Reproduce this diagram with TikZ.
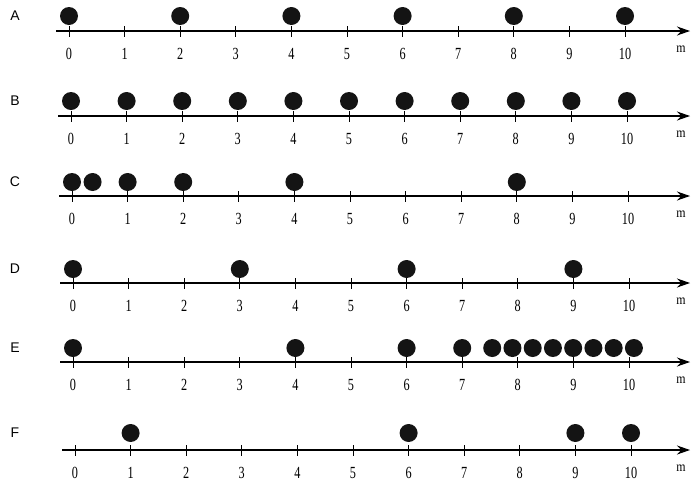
\documentclass[tikz,border=0pt]{standalone}
\usepackage{fontspec}
\setmainfont{Liberation Serif}
\setsansfont{Liberation Sans}
\usetikzlibrary{arrows.meta}
\begin{document}
\begin{tikzpicture}[x=1pt,y=-1pt,
  axis/.style={line width=1.1pt,-{Stealth[length=13pt,width=9pt]}},
  tickmark/.style={line width=1pt},
  ball/.style={circle,fill=black!92,inner sep=0pt,minimum size=18pt},
  num/.style={font=\fontsize{17}{17}\selectfont,xscale=0.72,inner sep=0pt},
  unit/.style={font=\fontsize{14}{14}\selectfont,xscale=0.85,inner sep=0pt},
  rowlab/.style={font=\sffamily\fontsize{14}{14}\selectfont,inner sep=0pt}]
\useasboundingbox[fill=white] (0,0) rectangle (695,483);
\foreach \L/\xo/\yl/\by/\balls in {
  A/69/31/15/{0,2,4,6,8,10},
  B/71/116/15/{0,...,10},
  C/72/196/14/{0,0.37,1,2,4,8},
  D/73/283/14/{0,3,6,9},
  E/73/362/14/{0,4,6,7,7.54,7.904,8.268,8.632,8.996,9.36,9.724,10.088},
  F/75/450/17/{1,6,9,10}} {
  \node[rowlab] (lab\L) at (15,\yl-\by) {\L};
  \coordinate (s\L) at (\xo-13,\yl);
  \coordinate (e\L) at (690,\yl);
  \draw[axis] (s\L) -- (e\L);
  \foreach \t in {0,...,10} {
    \coordinate (t\L\t) at (\xo+55.6*\t,\yl);
    \draw[tickmark] ([yshift=-5.5pt]t\L\t) -- ([yshift=5.5pt]t\L\t);
    \node[num] (n\L\t) at (\xo+55.6*\t,\yl+23) {\t};
  }
  \node[unit] (m\L) at (681,\yl+18) {m};
  \foreach \b [count=\k] in \balls {
    \node[ball] (b\L\k) at (\xo+55.6*\b,\yl-\by) {};
  }
}
\end{tikzpicture}
\end{document}
